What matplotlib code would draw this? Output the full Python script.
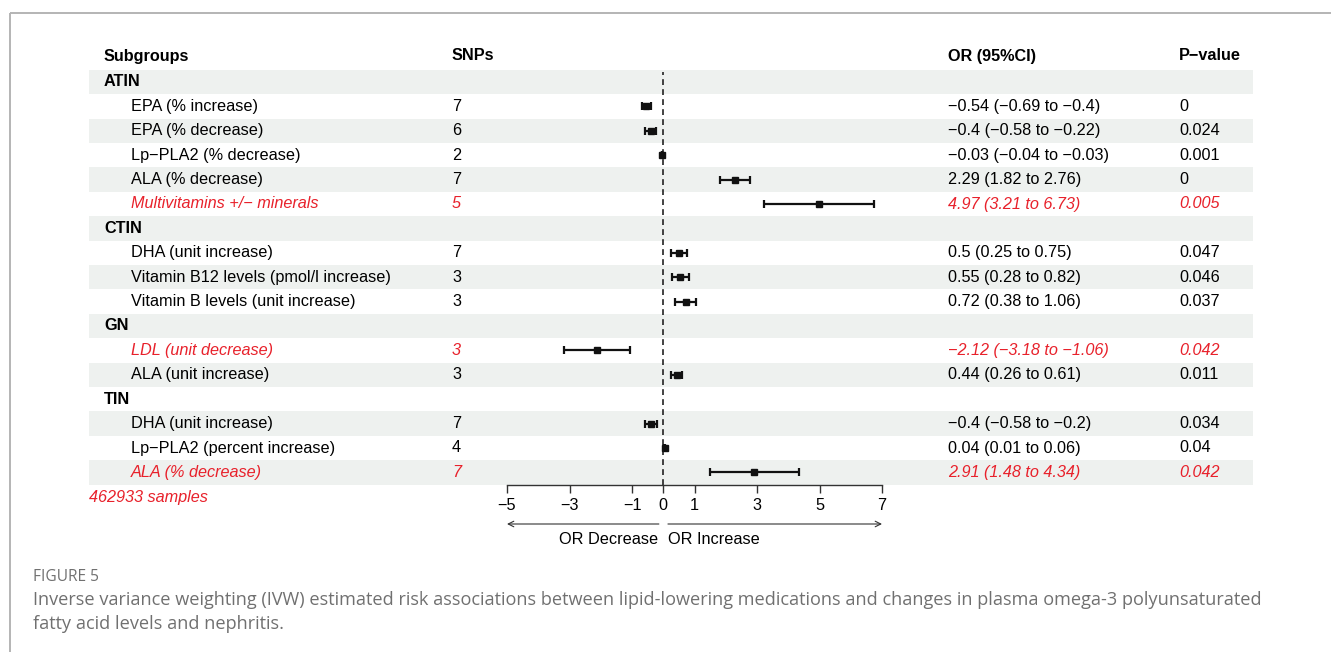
import matplotlib
matplotlib.use("Agg")
import matplotlib.pyplot as plt
import numpy as np

# ---- data -------------------------------------------------------------
groups = ["ATIN", "CTIN", "GN", "TIN"]
group_items = [
    ["EPA (% increase)", "EPA (% decrease)", "Lp\u2212PLA2 (% decrease)",
     "ALA (% decrease)", "Multivitamins +/\u2212 minerals"],
    ["DHA (unit increase)", "Vitamin B12 levels (pmol/l increase)",
     "Vitamin B levels (unit increase)"],
    ["LDL (unit decrease)", "ALA (unit increase)"],
    ["DHA (unit increase)", "Lp\u2212PLA2 (percent increase)", "ALA (% decrease)"],
]
snps = [7, 6, 2, 7, 5, 7, 3, 3, 3, 3, 7, 4, 7]
or_est = [-0.54, -0.4, -0.03, 2.29, 4.97, 0.5, 0.55, 0.72, -2.12, 0.44, -0.4, 0.04, 2.91]
ci_low = [-0.69, -0.58, -0.04, 1.82, 3.21, 0.25, 0.28, 0.38, -3.18, 0.26, -0.58, 0.01, 1.48]
ci_high = [-0.4, -0.22, -0.03, 2.76, 6.73, 0.75, 0.82, 1.06, -1.06, 0.61, -0.2, 0.06, 4.34]
p_values = ["0", "0.024", "0.001", "0", "0.005", "0.047", "0.046", "0.037",
            "0.042", "0.011", "0.034", "0.04", "0.042"]
highlight = [False, False, False, False, True, False, False, False, True,
             False, False, False, True]
x_ticks = [-5, -3, -1, 0, 1, 3, 5, 7]
sample_note = "462933 samples"
caption_label = "FIGURE 5"
caption_lines = [
    "Inverse variance weighting (IVW) estimated risk associations between "
    "lipid-lowering medications and changes in plasma omega-3 polyunsaturated",
    "fatty acid levels and nephritis.",
]

RED = "#e8212b"
SHADE = "#eef1ef"
GREY_TXT = "#707070"
FONT = "Liberation Sans"
FS = 11.7

def fmt(v):
    s = f"{v:g}"
    return s.replace("-", "\u2212")

# build row list: (kind, payload)
rows = []
k = 0
for g, items in zip(groups, group_items):
    rows.append(("group", g))
    for it in items:
        rows.append(("item", (it, k)))
        k += 1
n_rows = len(rows)

W, H = 1331, 652
fig = plt.figure(figsize=(W / 100, H / 100), dpi=100)

# table layer: x in px, y in row units (row 0 centred at px 82, pitch 24.4)
ROW0, PITCH = 82.0, 24.4
def row_of(px):
    return (px - ROW0) / PITCH

tab = fig.add_axes([0, 0, 1, 1])
tab.set_xlim(0, W)
tab.set_ylim(row_of(H), row_of(0))
tab.axis("off")

# frame rules (top and left)
tab.plot([10, W], [row_of(13)] * 2, color="#b4b4b4", lw=1.4, solid_capstyle="butt")
tab.plot([10, 10], [row_of(13), row_of(H)], color="#b4b4b4", lw=1.4, solid_capstyle="butt")

# zebra shading
for i in range(0, n_rows, 2):
    tab.fill_between([89, 1253], i - 0.5, i + 0.5, color=SHADE, lw=0, zorder=0)

X_SUB, X_GRP, X_SNP, X_OR, X_P = 131, 104, 452, 948, 1179
hdr_y = row_of(56)
for x, t in [(X_GRP, "Subgroups"), (X_SNP, "SNPs"), (X_OR, "OR (95%CI)"), (X_P, "P\u2212value")]:
    tab.text(x, hdr_y, t, fontsize=FS, fontweight="bold", family=FONT, va="center", ha="left")

for r, (kind, val) in enumerate(rows):
    if kind == "group":
        tab.text(X_GRP, r, val, fontsize=FS, fontweight="bold", family=FONT, va="center")
    else:
        name, j = val
        col = RED if highlight[j] else "black"
        sty = "italic" if highlight[j] else "normal"
        kw = dict(fontsize=FS, family=FONT, va="center", color=col, style=sty)
        tab.text(X_SUB, r, name, **kw)
        tab.text(X_SNP, r, str(snps[j]), **kw)
        tab.text(X_OR, r, f"{fmt(or_est[j])} ({fmt(ci_low[j])} to {fmt(ci_high[j])})", **kw)
        tab.text(X_P, r, p_values[j], **kw)

tab.text(89, row_of(497), sample_note, fontsize=FS, family=FONT, color=RED,
         style="italic", va="center")

# caption
tab.text(33, row_of(577), caption_label, fontsize=11.2, family="Open Sans",
         color=GREY_TXT, va="center")
for ln, py in zip(caption_lines, [600, 624]):
    tab.text(33, row_of(py), ln, fontsize=13.1, family="Open Sans",
             color=GREY_TXT, va="center")

# ---- forest panel -----------------------------------------------------
px_l, px_r = 507, 882
top_px = ROW0 - 0.5 * PITCH
bot_px = ROW0 + (n_rows - 0.5) * PITCH
ax = fig.add_axes([px_l / W, 1 - bot_px / H, (px_r - px_l) / W, (bot_px - top_px) / H])
ax.patch.set_alpha(0)
ax.set_xlim(-5, 7)
ax.set_ylim(n_rows - 0.5, -0.5)

ypos = [r for r, (kind, _) in enumerate(rows) if kind == "item"]
est = np.array(or_est)
lo = est - np.array(ci_low)
hi = np.array(ci_high) - est
ax.errorbar(est, ypos, xerr=[lo, hi], fmt="s", color="#111111", ms=4.0, lw=1.6,
            capsize=2.9, capthick=1.6, zorder=3)
ax.axvline(0, color="#222222", lw=1.2, ls=(0, (3.5, 2.5)), ymin=0, ymax=0.995, zorder=2)

for s in ["top", "left", "right"]:
    ax.spines[s].set_visible(False)
ax.spines["bottom"].set_color("#333333")
ax.spines["bottom"].set_linewidth(1.0)
ax.set_yticks([])
ax.set_xticks(x_ticks)
ax.set_xticklabels([fmt(t) for t in x_ticks], fontsize=FS, family=FONT)
ax.tick_params(axis="x", direction="out", length=5.5, width=1.0, color="#333333", pad=4)

h_ax = bot_px - top_px
y_arrow = -(524 - bot_px) / h_ax
y_lab = -(539 - bot_px) / h_ax
ax.annotate("", xy=(-5, y_arrow), xytext=(-0.14, y_arrow), xycoords=("data", "axes fraction"),
            arrowprops=dict(arrowstyle="->", color="#333333", lw=0.8, shrinkA=0, shrinkB=0))
ax.annotate("", xy=(7, y_arrow), xytext=(0.15, y_arrow), xycoords=("data", "axes fraction"),
            arrowprops=dict(arrowstyle="->", color="#333333", lw=0.8, shrinkA=0, shrinkB=0))
ax.text(-0.15, y_lab, "OR Decrease", transform=ax.get_xaxis_transform(), ha="right",
        va="center", fontsize=FS, family=FONT)
ax.text(0.15, y_lab, "OR Increase", transform=ax.get_xaxis_transform(), ha="left",
        va="center", fontsize=FS, family=FONT)

fig.savefig("out.png", dpi=100)
